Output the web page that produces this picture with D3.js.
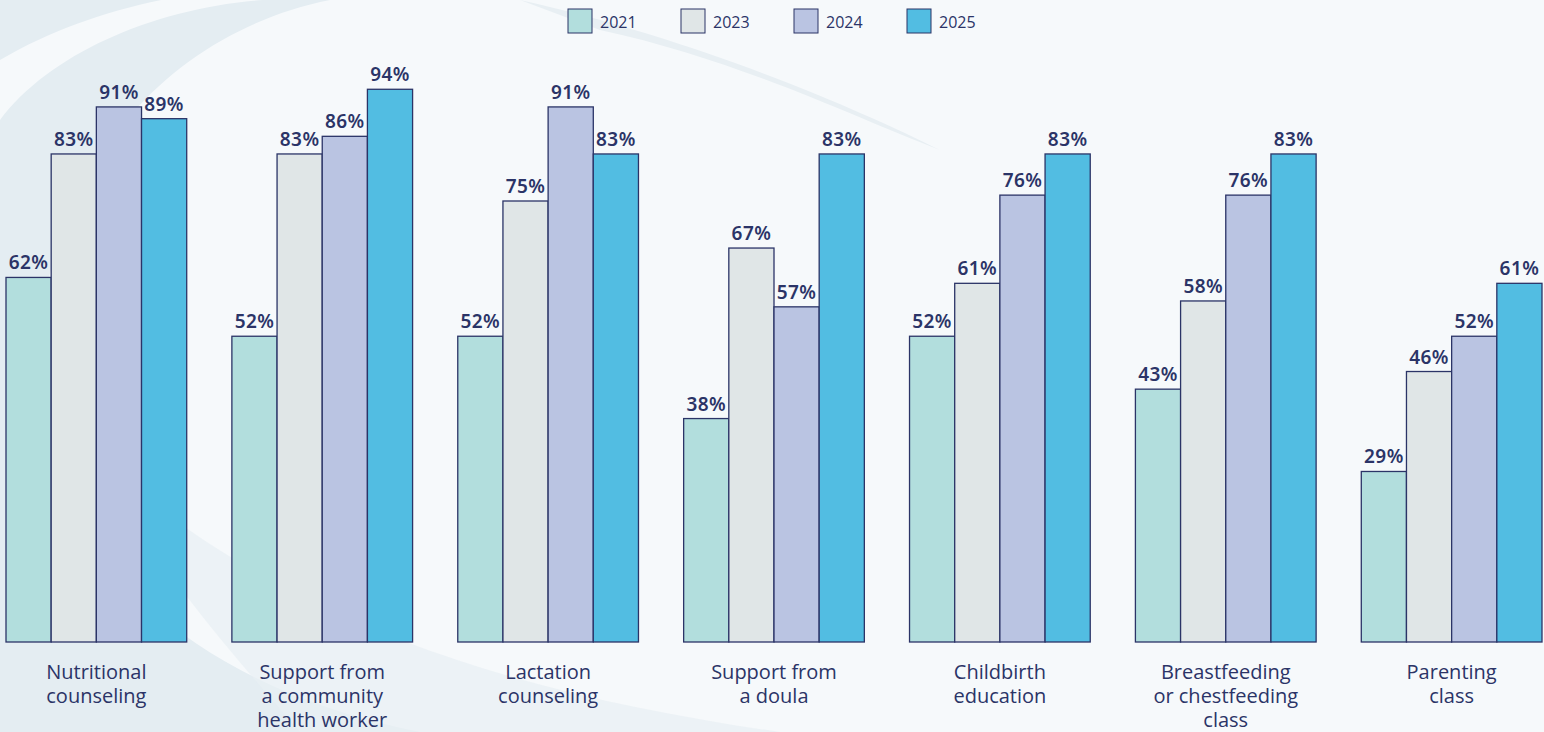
<!DOCTYPE html>
<html>
<head>
<meta charset="utf-8">
<script src="https://cdn.jsdelivr.net/npm/d3@7"></script>
<style>
  html, body { margin: 0; padding: 0; background: #f6f9fb; }
  svg { display: block; }
</style>
</head>
<body>
<div id="chart"></div>
<script>
const categories = [
    ['Nutritional', 'counseling'],
    ['Support from', 'a community', 'health worker'],
    ['Lactation', 'counseling'],
    ['Support from', 'a doula'],
    ['Childbirth', 'education'],
    ['Breastfeeding', 'or chestfeeding', 'class'],
    ['Parenting', 'class']
];
const years = ['2021', '2023', '2024', '2025'];
const values2021 = [62, 52, 52, 38, 52, 43, 29];
const values2023 = [83, 83, 75, 67, 61, 58, 46];
const values2024 = [91, 86, 91, 57, 76, 76, 52];
const values2025 = [89, 94, 83, 83, 83, 83, 61];
const colors = ['#b2dedd', '#e0e6e7', '#bac4e2', '#52bde2'];

const width = 1544, height = 732;
const navy = '#2b3467';

const series = [values2021, values2023, values2024, values2025];
const rows = categories.map((c, i) => ({
    idx: i,
    label: c,
    vals: years.map((y, j) => ({ year: y, value: series[j][i] }))
}));

const svg = d3.select('#chart').append('svg')
    .attr('width', width)
    .attr('height', height);

// faint background swooshes
const bg = svg.append('g');
bg.append('rect').attr('width', width).attr('height', height).attr('fill', '#f6f9fb');
bg.append('path')
    .attr('d', 'M0,60 C120,-10 260,-20 420,-20 L-20,-20 Z')
    .attr('fill', '#e4edf2');
bg.append('path')
    .attr('d', 'M0,120 C60,40 200,-10 330,0 C180,30 60,150 40,330 C20,520 160,680 420,732 L0,732 Z')
    .attr('fill', '#e4edf2');
bg.append('path')
    .attr('d', 'M520,0 C700,40 860,110 940,150 C860,120 740,60 600,30 Z')
    .attr('fill', '#e8eff3');
bg.append('path')
    .attr('d', 'M100,460 C300,640 560,700 780,732 L300,732 C220,640 150,560 100,460 Z')
    .attr('fill', '#e8eff3').attr('opacity', 0.7);

const x0 = d3.scaleBand()
    .domain(categories.map((c, i) => i))
    .range([6, 1542])
    .paddingInner(0.2)
    .paddingOuter(0);

const x1 = d3.scaleBand()
    .domain(years)
    .range([0, x0.bandwidth()]);

const y = d3.scaleLinear()
    .domain([0, 100])
    .range([642, 54]);

const color = d3.scaleOrdinal().domain(years).range(colors);

const groups = svg.append('g').selectAll('g')
    .data(rows)
    .join('g')
    .attr('transform', d => `translate(${x0(d.idx)},0)`);

groups.selectAll('rect')
    .data(d => d.vals)
    .join('rect')
    .attr('x', d => x1(d.year))
    .attr('y', d => y(d.value))
    .attr('width', x1.bandwidth())
    .attr('height', d => y(0) - y(d.value))
    .attr('fill', d => color(d.year))
    .attr('stroke', navy)
    .attr('stroke-width', 1.3);

groups.selectAll('text.val')
    .data(d => d.vals)
    .join('text')
    .attr('class', 'val')
    .attr('x', d => x1(d.year) + x1.bandwidth() / 2)
    .attr('y', d => y(d.value) - 8)
    .attr('text-anchor', 'middle')
    .attr('font-family', 'Noto Sans, sans-serif')
    .attr('font-weight', 600)
    .attr('font-size', 19)
    .attr('letter-spacing', 0.4)
    .attr('fill', navy)
    .text(d => d.value + '%');

groups.append('text')
    .attr('text-anchor', 'middle')
    .attr('font-family', 'Open Sans, sans-serif')
    .attr('font-size', 20)
    .attr('fill', navy)
    .selectAll('tspan')
    .data(d => d.label)
    .join('tspan')
    .attr('x', x0.bandwidth() / 2)
    .attr('y', (d, i) => 679 + i * 24)
    .text(d => d);

// legend
const legend = svg.append('g').selectAll('g')
    .data(years)
    .join('g')
    .attr('transform', (d, i) => `translate(${568 + i * 113},9)`);

legend.append('rect')
    .attr('width', 24)
    .attr('height', 24)
    .attr('fill', d => color(d))
    .attr('stroke', navy)
    .attr('stroke-width', 1);

legend.append('text')
    .attr('x', 32)
    .attr('y', 19)
    .attr('font-family', 'Open Sans, sans-serif')
    .attr('font-size', 16)
    .attr('fill', navy)
    .text(d => d);
</script>
</body>
</html>
